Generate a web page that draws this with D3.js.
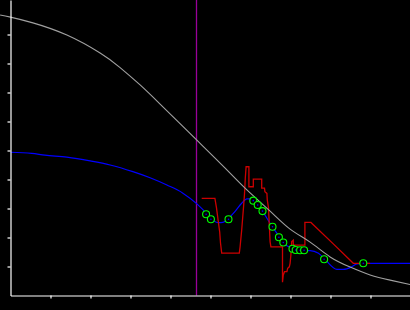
<!DOCTYPE html>
<html>
<head>
<meta charset="utf-8">
<script src="https://cdn.jsdelivr.net/npm/d3@7"></script>
<style>
  body { margin: 0; background: #000; }
  svg { display: block; }
</style>
</head>
<body>
<svg width="410" height="310"></svg>
<script>
// smooth gray reference curve
const grayX = [-0.26, 0, 0.56, 1.41, 2.24, 2.74, 3.24, 3.74, 4.64, 5.36, 5.91, 6.49, 6.99, 7.49, 7.99, 8.49, 8.99, 9.49, 9.99];
const grayY = [9.67, 9.60, 9.40, 8.98, 8.36, 7.86, 7.26, 6.60, 5.38, 4.40, 3.64, 2.91, 2.29, 1.84, 1.33, 0.98, 0.71, 0.53, 0.38];

// blue fitted line
const blueX = [0, 0.53, 0.86, 1.41, 1.99, 2.49, 3.06, 3.49, 3.91, 4.31, 4.66, 4.86, 5.01, 5.20, 5.31, 5.45, 5.61, 5.78, 5.91, 6.03, 6.16, 6.28, 6.53, 6.72, 6.82, 7.03, 7.36, 7.49, 7.70, 7.86, 8.16, 8.32, 8.53, 8.66, 8.82, 9.99];
const blueY = [4.94, 4.90, 4.84, 4.77, 4.64, 4.50, 4.27, 4.06, 3.81, 3.53, 3.16, 2.89, 2.66, 2.51, 2.52, 2.66, 2.89, 3.18, 3.33, 3.33, 3.18, 2.95, 2.40, 2.03, 1.82, 1.63, 1.54, 1.55, 1.46, 1.25, 0.90, 0.90, 0.99, 1.09, 1.11, 1.11];

// red raw signal
const redX = [4.78, 5.11, 5.15, 5.19, 5.23, 5.25, 5.28, 5.72, 5.74, 5.78, 5.82, 5.85, 5.87, 5.89, 5.96, 5.96, 6.07, 6.07, 6.28, 6.28, 6.35, 6.36, 6.41, 6.42, 6.45, 6.47, 6.49, 6.51, 6.80, 6.80, 6.82, 6.85, 6.91, 6.93, 6.97, 6.99, 7.01, 7.03, 7.07, 7.07, 7.36, 7.36, 7.51, 8.07, 8.57, 8.99];
const redY = [3.35, 3.35, 3.02, 2.60, 2.19, 1.81, 1.46, 1.46, 1.68, 2.26, 2.95, 3.50, 4.05, 4.44, 4.44, 3.75, 3.75, 4.01, 4.01, 3.70, 3.70, 3.58, 3.52, 3.29, 3.02, 2.43, 1.86, 1.68, 1.68, 0.46, 0.71, 0.82, 0.82, 0.94, 0.99, 1.11, 1.40, 1.86, 1.91, 1.74, 1.74, 2.52, 2.52, 1.78, 1.11, 1.11];

// sample markers
const ptX = [4.89, 5.01, 5.45, 6.07, 6.18, 6.30, 6.55, 6.71, 6.82, 7.05, 7.13, 7.24, 7.34, 7.84, 8.82];
const ptY = [2.80, 2.63, 2.63, 3.27, 3.12, 2.91, 2.37, 2.01, 1.83, 1.61, 1.57, 1.56, 1.56, 1.25, 1.11];

const markerX = 4.65;
const xTicks = d3.range(1, 10);
const yTicks = d3.range(1, 10);

const svg = d3.select("svg");
const width = 410, height = 310;

svg.append("rect").attr("width", width).attr("height", height).attr("fill", "#000");

const x = d3.scaleLinear().domain([0, 10]).range([10.5, 410.5]);
const y = d3.scaleLinear().domain([0, 295.5 / 29]).range([295.5, 0]);

const zip = (xs, ys) => xs.map((v, i) => [v, ys[i]]);

// vertical marker
svg.append("line")
  .attr("x1", x(markerX)).attr("x2", x(markerX))
  .attr("y1", 0).attr("y2", y(0))
  .attr("stroke", "#990099")
  .attr("stroke-width", 1.3);

const lineSmooth = d3.line().x(d => x(d[0])).y(d => y(d[1])).curve(d3.curveMonotoneX);
const lineNatural = d3.line().x(d => x(d[0])).y(d => y(d[1])).curve(d3.curveNatural);
const lineRaw = d3.line().x(d => x(d[0])).y(d => y(d[1]));

svg.append("path")
  .datum(zip(blueX, blueY))
  .attr("d", lineSmooth)
  .attr("fill", "none")
  .attr("stroke", "#0000ff")
  .attr("stroke-width", 1.2);

svg.append("path")
  .datum(zip(redX, redY))
  .attr("d", lineRaw)
  .attr("fill", "none")
  .attr("stroke", "#cc0000")
  .attr("stroke-width", 1.3);

svg.append("path")
  .datum(zip(grayX, grayY))
  .attr("d", lineNatural)
  .attr("fill", "none")
  .attr("stroke", "#a0a0a0")
  .attr("stroke-width", 1.1);

const pts = svg.append("g")
  .selectAll("g")
  .data(zip(ptX, ptY))
  .join("g")
  .attr("transform", d => `translate(${x(d[0])},${y(d[1])})`);

pts.append("circle")
  .attr("r", 3.5)
  .attr("fill", "#000")
  .attr("stroke", "#00ff00")
  .attr("stroke-width", 1.1);

pts.append("circle")
  .attr("r", 0.8)
  .attr("fill", "#0000ff");

// axes
const xAxis = svg.append("g")
  .attr("transform", `translate(0,${y(0)})`)
  .call(d3.axisBottom(x).tickValues(xTicks).tickSize(3).tickSizeOuter(0).tickFormat(""));

const yAxis = svg.append("g")
  .attr("transform", `translate(${x(0)},0)`)
  .call(d3.axisLeft(y).tickValues(yTicks).tickSize(3).tickSizeOuter(0).tickFormat(""));

[xAxis, yAxis].forEach(g => {
  g.select(".domain").attr("stroke", "#fff").attr("stroke-width", 1.2);
  g.selectAll(".tick line").attr("stroke", "#fff").attr("stroke-width", 1.2);
});
</script>
</body>
</html>
